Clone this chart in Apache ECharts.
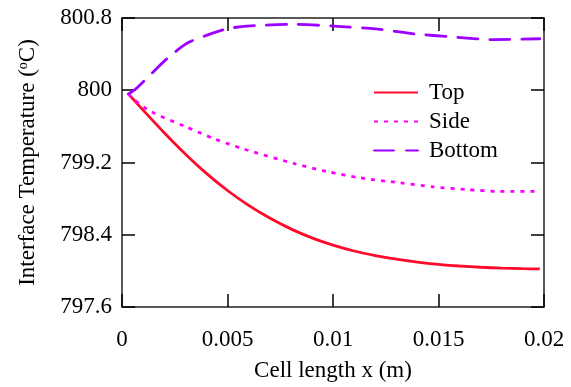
<!DOCTYPE html>
<html>
<head>
<meta charset="utf-8">
<script src="https://cdn.jsdelivr.net/npm/echarts@6/dist/echarts.min.js"></script>
<style>html,body{margin:0;padding:0;background:#fff;}#c{width:571px;height:387px;}</style>
</head>
<body>
<div id="c"></div>
<script>
var seriesNames = ['Top', 'Side', 'Bottom'];
var xTicks = [0, 0.005, 0.01, 0.015, 0.02];
var yTicks = [797.6, 798.4, 799.2, 800, 800.8];

var topX = [0.0003, 0.001, 0.002, 0.003, 0.004, 0.005, 0.006, 0.007, 0.008, 0.009, 0.010, 0.011, 0.012, 0.013, 0.014, 0.015, 0.016, 0.017, 0.018, 0.019, 0.0198];
var topY = [799.96, 799.78, 799.53, 799.295, 799.08, 798.89, 798.725, 798.585, 798.465, 798.365, 798.285, 798.22, 798.17, 798.13, 798.098, 798.073, 798.054, 798.04, 798.03, 798.024, 798.022];

var sideX = [0.0003, 0.00054, 0.0014, 0.00298, 0.0044, 0.00576, 0.00813, 0.00971, 0.01129, 0.01318, 0.01476, 0.01634, 0.01792, 0.0198];
var sideY = [799.96, 799.9, 799.76, 799.6, 799.46, 799.35, 799.19, 799.10, 799.03, 798.975, 798.93, 798.90, 798.88, 798.88];

var bottomX = [0.0003, 0.00063, 0.00121, 0.00213, 0.00308, 0.00403, 0.00497, 0.00592, 0.00821, 0.01002, 0.012, 0.01381, 0.0157, 0.0176, 0.0198];
var bottomY = [799.96, 800.01, 800.14, 800.35, 800.52, 800.61, 800.68, 800.71, 800.73, 800.71, 800.68, 800.625, 800.59, 800.56, 800.57];

function pairs(xs, ys) { return xs.map(function (x, i) { return [x, ys[i]]; }); }

var FONT = "'Liberation Serif', 'Times New Roman', serif";
var chart = echarts.init(document.getElementById('c'), null, {renderer: 'canvas'});
function ticks() { return {show: true, inside: true, length: 13, lineStyle: {color: '#000', width: 1.5}}; }
function axLine() { return {show: true, onZero: false, lineStyle: {color: '#222', width: 1.5}}; }
var labelStyle = {fontFamily: FONT, fontSize: 23, color: '#000', fontWeight: 'normal'};

chart.setOption({
  animation: false,
  backgroundColor: '#fff',
  textStyle: {fontFamily: FONT, fontSize: 23, color: '#000'},
  grid: {left: 122, right: 27, top: 18, bottom: 77, containLabel: false},
  legend: {
    orient: 'vertical', left: 368, top: 76, itemWidth: 44, itemHeight: 14, itemGap: 6,
    data: seriesNames,
    itemStyle: {opacity: 0},
    textStyle: {fontFamily: FONT, fontSize: 23, color: '#000', padding: [0, 0, 0, 6]}
  },
  xAxis: [{
    type: 'value', min: 0, max: 0.02, interval: 0.005,
    name: 'Cell length x (m)', nameLocation: 'middle', nameGap: 52,
    nameTextStyle: labelStyle,
    axisLine: axLine(),
    axisTick: ticks(),
    splitLine: {show: false},
    axisLabel: Object.assign({margin: 21,
      formatter: function (v) { var t = xTicks.filter(function (k) { return Math.abs(k - v) < 1e-9; }); return t.length ? String(t[0]) : ''; }}, labelStyle)
  }, {
    type: 'value', min: 0, max: 0.02, interval: 0.005, position: 'top',
    axisLine: axLine(), axisTick: ticks(),
    axisLabel: {show: false}, splitLine: {show: false}
  }],
  yAxis: [{
    type: 'value', min: 797.6, max: 800.8, interval: 0.8,
    name: '{a|Interface Temperature (}{s|o}{a|C)}', nameLocation: 'middle', nameGap: 82, nameRotate: 90,
    nameTextStyle: Object.assign({
      rich: {a: {fontFamily: FONT, fontSize: 23, color: '#000'}, s: {fontFamily: FONT, fontSize: 14, color: '#000', verticalAlign: 'top', padding: [0, 0, 10, 0]}}}, labelStyle),
    axisLine: axLine(),
    axisTick: ticks(),
    splitLine: {show: false},
    axisLabel: Object.assign({margin: 10,
      formatter: function (v) { var t = yTicks.filter(function (k) { return Math.abs(k - v) < 1e-6; }); return t.length ? String(t[0]) : ''; }}, labelStyle)
  }, {
    type: 'value', min: 797.6, max: 800.8, interval: 0.8, position: 'right',
    axisLine: axLine(), axisTick: ticks(),
    axisLabel: {show: false}, splitLine: {show: false}
  }],
  series: [{
    name: seriesNames[0], type: 'line', symbol: 'none', smooth: 0.25,
    data: pairs(topX, topY),
    lineStyle: {color: '#ff0a2a', width: 2.8, type: 'solid'}, itemStyle: {color: '#ff0a2a'}
  }, {
    name: seriesNames[1], type: 'line', symbol: 'none', smooth: 0.25,
    data: pairs(sideX, sideY),
    lineStyle: {color: '#ff00ff', width: 2.8, type: [4, 6], cap: 'butt'}, itemStyle: {color: '#ff00ff'}
  }, {
    name: seriesNames[2], type: 'line', symbol: 'none', smooth: 0.25,
    data: pairs(bottomX, bottomY),
    lineStyle: {color: '#9d00ff', width: 2.8, type: [20, 12], cap: 'round'}, itemStyle: {color: '#9d00ff'}
  }]
});
</script>
</body>
</html>
